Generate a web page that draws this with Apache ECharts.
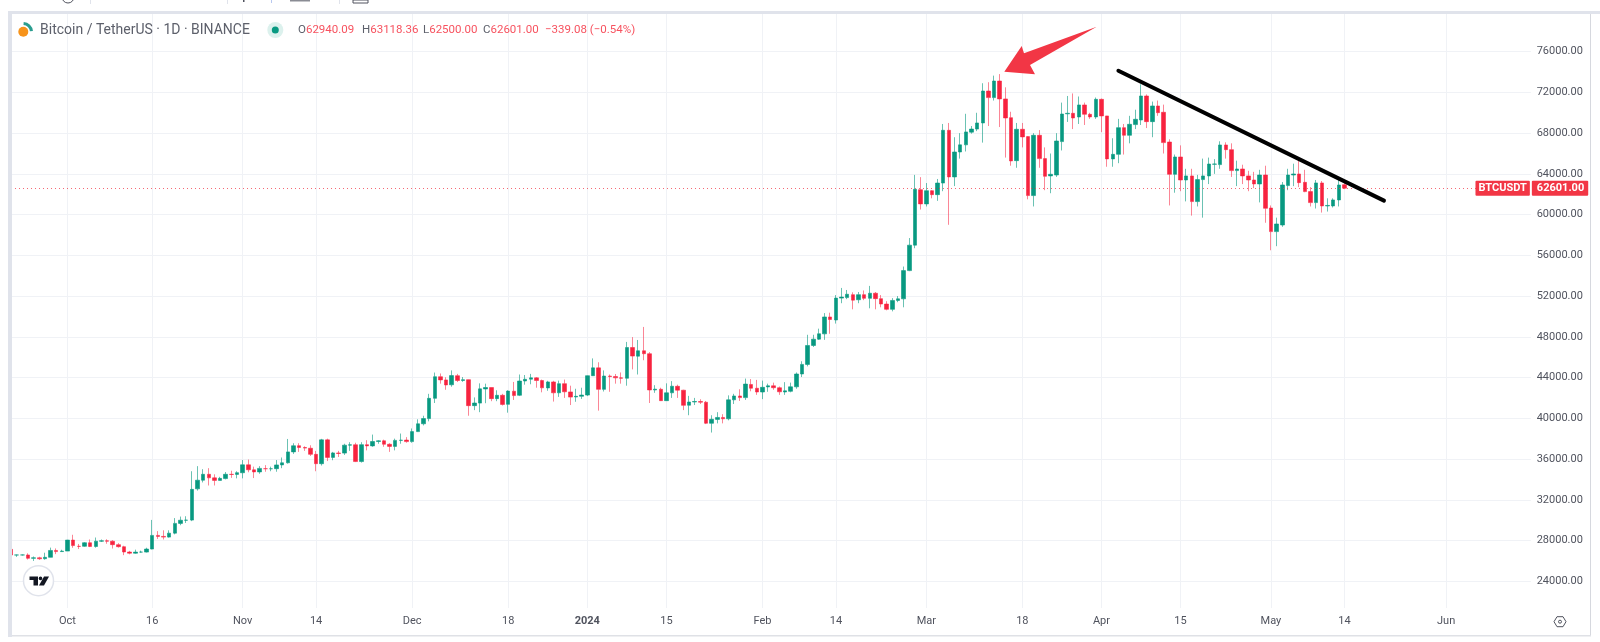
<!DOCTYPE html>
<html>
<head>
<meta charset="utf-8">
<style>
html,body{margin:0;padding:0;background:#fff;}
#chart{width:1600px;height:642px;}
</style>
<script src="https://cdn.jsdelivr.net/npm/echarts@6/dist/echarts.min.js"></script>
</head>
<body>
<div id="chart"></div>
<script>
// daily candles from 2023-09-21, ten per row
var opens = [
27130,26570,26580,26580,26250,26300,26210,26350,27020,26910,
26960,28040,27430,27430,27780,27410,27930,27970,27930,27590,
27390,26870,26750,26860,26860,27160,28500,28400,28330,28720,
29680,29990,30000,33070,33920,34500,34150,33900,34080,34500,
34490,34650,35430,34940,34730,35050,35040,35050,35420,35630,
36700,37310,37130,37060,36460,35540,37880,36160,36590,36580,
37360,37400,35750,37410,37290,37720,37790,37450,37240,37830,
37860,37710,38690,39460,39970,41960,44080,43770,43290,44180,
43710,43790,41240,41490,42880,43020,41930,42260,41370,42660,
42260,43660,43840,43970,43710,42980,43570,42500,43400,42590,
42090,42160,42280,44180,44950,42840,44150,44100,43970,43930,
46950,46100,46630,46340,42780,42850,41730,42500,43140,42760,
41280,41600,41650,41580,39510,39890,40080,39950,41810,42190,
42030,43320,42950,42580,43080,43190,43000,42580,42650,43090,
44350,45290,47150,47770,48290,49950,49650,51800,51850,52140,
51640,52140,51780,52280,51750,51220,50700,51570,51730,54500,
57000,62450,61050,62350,61960,63100,68280,63700,66150,66850,
68100,68400,69000,72140,71490,73120,71360,69520,65300,68380,
67660,61870,67790,65500,63800,63890,67170,69900,69950,69590,
70770,69850,69590,71320,69690,65470,65920,68540,67790,68840,
69290,71650,69130,70670,70050,67130,63960,65660,63400,63800,
61280,63440,63800,64950,64910,66840,66380,64320,64480,63800,
63400,63010,63890,60650,58330,58980,62850,63890,63990,63170,
62260,61180,63110,60850,60850,61440,62940
];
var closes = [
26570,26580,26580,26250,26300,26200,26350,27020,26910,26960,
28040,27500,27420,27780,27410,27930,27970,27930,27590,27390,
26870,26750,26860,26860,27160,28500,28400,28330,28720,29680,
29990,30000,33020,33920,34500,34150,33900,34100,34500,34480,
34660,35430,34940,34730,35080,35050,35050,35420,35630,36700,
37300,37130,37070,36460,35540,37880,36160,36600,36550,37360,
37400,35750,37410,37290,37720,37790,37450,37240,37830,37850,
37710,38690,39460,39970,41960,44080,43770,43270,44190,43710,
43790,41240,41500,42890,43020,41930,42260,41360,42670,42230,
43660,43830,43970,43710,42990,43570,42500,43400,42600,42080,
42160,42280,44180,44950,42840,44150,44100,43970,43930,46950,
46110,46630,46340,42780,42860,41730,42500,43150,42760,41270,
41600,41650,41580,39510,39900,40080,39950,41810,42190,42030,
43360,42950,42580,43040,43190,43000,42600,42700,43090,44350,
45290,47150,47770,48300,49950,49700,51800,51900,52180,51600,
52140,51780,52280,51750,51220,50700,51570,51730,54500,57000,
62486,61050,62350,61960,63100,68280,63700,66150,66850,68120,
68400,69000,72140,71490,73120,71360,69490,65270,68380,67630,
61870,67790,65500,63760,63960,67230,69880,69950,69490,70770,
69850,69590,71320,69690,65470,65920,68540,67790,68870,69360,
71650,69130,70670,70010,67070,63960,65660,63400,63800,61280,
63440,63800,64970,64970,66840,66380,64320,64480,63800,63400,
63010,63890,60620,58330,59080,62910,63890,63990,63140,62260,
61180,63110,60850,60900,61440,62910,62601
];
var lows = [
26450,26390,26520,26130,25990,26100,26110,26340,26660,26880,
26960,27280,27160,27380,27350,27290,27850,27680,27210,27300,
26560,26640,26700,26810,26820,27130,28150,28100,28280,28600,
29500,29720,29900,32900,33700,33400,33400,33900,34000,34150,
34100,34100,34700,34130,34550,34750,34800,34750,35100,35550,
36500,36700,36800,36300,34800,35360,35800,35880,36200,36400,
36800,35700,35650,36850,37200,37500,37200,36700,36850,37500,
37600,37600,38650,39300,39700,41500,43400,42800,43100,43560,
43580,40250,40800,40600,41480,41680,41680,41250,40550,41800,
42180,43300,43340,43000,42550,42700,41640,42100,42000,41300,
41620,41900,42180,44150,40750,42630,42600,43400,43400,43200,
44800,44300,45700,41500,42500,41700,41700,42000,42000,40800,
40300,41300,41400,39430,38600,39500,39500,39800,41400,41700,
41800,42650,42300,41880,42600,42800,42300,42300,42550,42900,
44050,45100,47000,47700,47700,48300,49300,51300,51700,50700,
51300,51600,50800,50700,50900,50600,50500,51400,50900,54450,
56700,60500,60800,61600,61350,62300,59000,62800,65500,66200,
67950,68200,67070,68700,71200,68600,65600,64800,64600,66600,
61500,60800,64600,62400,62100,63700,66300,69100,68400,68900,
68800,69400,69400,68100,64700,64700,65050,65900,67000,68400,
68800,68500,67600,69700,66000,60900,62150,62300,61300,59900,
60800,59700,63000,64000,64500,65500,63700,62800,63000,62300,
62600,61200,59200,56500,56900,58800,62400,62800,62700,62200,
60800,60600,60200,60300,60700,60800,62500
];
var highs = [
27160,26620,26620,26740,26430,26400,26800,27300,27220,27090,
28060,28560,27660,27840,28100,28290,28100,28120,28030,27740,
27480,26980,27100,27000,27290,30020,28920,29000,29000,30200,
30350,30380,34800,35300,35000,35100,34500,34250,34720,34850,
34800,35900,35950,35250,35300,35400,35250,35900,36150,37970,
37550,37550,37250,37350,36800,37980,37999,36700,36800,37500,
37650,37600,37650,37850,38400,37850,37900,37550,38000,38500,
38150,39000,39900,40250,42400,44490,44400,44030,44700,44360,
44050,43800,42050,43430,43400,43020,42750,42400,42750,43570,
44300,44250,44360,44040,43800,43680,43680,43700,43800,43200,
42900,43000,44200,45880,45500,44700,44300,44350,44500,47500,
47970,47690,48970,46500,43250,43000,43430,43650,43300,42800,
42200,42000,41870,41700,40300,40600,40400,42250,42400,42850,
43900,43850,43770,43700,43400,43500,43120,43550,43500,44500,
45600,48200,48200,48800,50330,50370,52100,52800,52600,52370,
52400,52550,53000,52400,52100,51500,51800,52000,54900,57700,
63900,63680,63100,62400,63500,68900,69000,67600,68000,69900,
68700,70000,72900,73000,73650,73800,72500,70100,69000,69000,
67700,68000,68300,66600,66000,68000,71000,71650,71900,71600,
71000,70000,71500,71400,69700,67500,69400,68900,69700,70300,
72800,71800,71100,71200,70800,67400,65900,66800,64500,64500,
63900,65500,65600,65450,67200,67100,67000,65300,64900,64300,
64200,64400,64800,60900,59700,63200,64500,65000,65500,64400,
62700,63400,63300,61600,61600,63450,63118
];

var tickDates = ['2023-10-01','2023-10-16','2023-11-01','2023-11-14','2023-12-01','2023-12-18','2024-01-01','2024-01-15','2024-02-01','2024-02-14','2024-03-01','2024-03-18','2024-04-01','2024-04-15','2024-05-01','2024-05-14','2024-06-01'];
var tickNames = ['Oct','16','Nov','14','Dec','18','2024','15','Feb','14','Mar','18','Apr','15','May','14','Jun'];
var priceTicks = [24000,28000,32000,36000,40000,44000,48000,52000,56000,60000,64000,68000,72000,76000];
var trendDates = ['2024-04-04','2024-05-21'];
var trendValues = [74130,61370];
var lastPrice = 62601;
var ohlcLetters = ['O','H','L','C',''];
var ohlcValues = ['62940.09','63118.36','62500.00','62601.00','−339.08 (−0.54%)'];
var ohlcLeft = [298,362,423,483,545];

var UP = '#089981', DOWN = '#f7233f', TEXT = '#50535e', GRID = '#f0f2f6';

// axis runs on past the last candle, up to the price scale
var categories = [];
var start = Date.UTC(2023, 8, 21);
for (var i = 0; i < 270; i++) {
	categories.push(new Date(start + i * 86400000).toISOString().slice(0, 10));
}
var candles = opens.map(function (o, i) {
	return [o, closes[i], lows[i], highs[i]];
});
function isTick(index) {
	return tickDates.indexOf(categories[index]) >= 0;
}
var ohlcTexts = ohlcValues.map(function (value, i) {
	return {
		type: 'text', z: 6, silent: true, x: ohlcLeft[i], y: 30,
		style: {
			text: (ohlcLetters[i] ? '{g|' + ohlcLetters[i] + '}' : '') + '{r|' + value + '}',
			font: '11.5px Roboto', verticalAlign: 'middle',
			rich: {
				g: { font: '11.5px Roboto', fill: '#5d606b' },
				r: { font: '11.5px Roboto', fill: '#f7525f' }
			}
		}
	};
});

var chart = echarts.init(document.getElementById('chart'));
chart.setOption({
	animation: false,
	backgroundColor: '#fff',
	textStyle: { fontFamily: 'Roboto' },
	grid: { left: 11, top: 14, width: 1519.85, height: 594, containLabel: false },
	xAxis: {
		type: 'category',
		data: categories,
		boundaryGap: false,
		axisLine: { show: false },
		axisTick: { show: false },
		axisLabel: {
			color: TEXT, fontSize: 11, margin: 8,
			interval: function (index) { return isTick(index); },
			formatter: function (value) {
				var name = tickNames[tickDates.indexOf(value)];
				return name === '2024' ? '{b|2024}' : name;
			},
			rich: { b: { fontWeight: 'bold', fontSize: 11, color: TEXT } }
		},
		splitLine: {
			show: true,
			interval: function (index) { return isTick(index); },
			lineStyle: { color: GRID, width: 1 }
		}
	},
	yAxis: {
		type: 'value',
		position: 'right',
		min: 21370,
		max: 79700,
		scale: true,
		axisLine: { show: false },
		axisTick: { show: false, customValues: priceTicks },
		axisLabel: {
			customValues: priceTicks,
			color: TEXT, fontSize: 11, margin: 52, align: 'right',
			formatter: function (value) { return value.toFixed(2); }
		},
		splitLine: { show: true, lineStyle: { color: GRID, width: 1 } }
	},
	series: [{
		type: 'candlestick',
		data: candles,
		barWidth: 4,
		itemStyle: {
			color: UP, color0: DOWN,
			borderColor: 'rgba(8,153,129,0.6)', borderColor0: 'rgba(247,35,63,0.55)',
			borderWidth: 1
		},
		markLine: {
			silent: true,
			symbol: 'none',
			lineStyle: { type: [1, 3], color: 'rgba(242,54,69,0.5)', width: 1 },
			data: [{
				yAxis: lastPrice,
				label: {
					position: 'end', distance: 1, formatter: '62601.00',
					backgroundColor: '#f23645', color: '#fff', fontSize: 11, fontWeight: 'bold',
					padding: [2, 4, 2, 5], borderRadius: 1
				}
			}, {
				yAxis: lastPrice,
				label: {
					position: 'insideEnd', distance: 1, formatter: 'BTCUSDT', verticalAlign: 'middle',
					backgroundColor: '#f23645', color: '#fff', fontSize: 11, fontWeight: 'bold',
					padding: [2, 3, 2, 3], borderRadius: 1
				}
			}]
		},
		z: 3
	}, {
		type: 'line',
		data: [[trendDates[0], trendValues[0]], [trendDates[1], trendValues[1]]],
		symbol: 'none',
		silent: true,
		lineStyle: { color: '#000', width: 4, cap: 'round' },
		z: 5
	}],
	graphic: [
		// panel frame
		{ type: 'rect', z: 10, silent: true, shape: { x: 8, y: 11, width: 4, height: 626 }, style: { fill: '#e0e3eb' } },
		{ type: 'rect', z: -1, silent: true, shape: { x: 8, y: 11, width: 1592, height: 3 }, style: { fill: '#e0e3eb' } },
		{ type: 'rect', z: -1, silent: true, shape: { x: 1590, y: 14, width: 1, height: 622 }, style: { fill: '#d6d8de' } },
		{ type: 'rect', z: -1, silent: true, shape: { x: 12, y: 635, width: 1579, height: 1.5 }, style: { fill: '#dfe1e6' } },
		// cut off toolbar
		{ type: 'circle', z: 1, silent: true, shape: { cx: 68, cy: -3, r: 6 }, style: { fill: 'none', stroke: '#50535e', lineWidth: 1 } },
		{ type: 'rect', z: 1, silent: true, shape: { x: 90, y: 0, width: 1, height: 4 }, style: { fill: '#e0e3eb' } },
		{ type: 'rect', z: 1, silent: true, shape: { x: 227, y: 0, width: 1, height: 4 }, style: { fill: '#e0e3eb' } },
		{ type: 'rect', z: 1, silent: true, shape: { x: 243, y: 0, width: 1.5, height: 2 }, style: { fill: '#50535e' } },
		{ type: 'rect', z: 1, silent: true, shape: { x: 271, y: 0, width: 1, height: 3 }, style: { fill: '#b8c8f0' } },
		{ type: 'rect', z: 1, silent: true, shape: { x: 290, y: 0, width: 20, height: 1.5 }, style: { fill: '#8a8c94' } },
		{ type: 'rect', z: 1, silent: true, shape: { x: 339, y: 0, width: 1, height: 4 }, style: { fill: '#e0e3eb' } },
		{ type: 'rect', z: 1, silent: true, shape: { x: 353, y: 0, width: 15, height: 3 }, style: { fill: 'none', stroke: '#50535e', lineWidth: 1 } },
		// legend line
		{
			type: 'text', z: 6, silent: true, x: 40, y: 30,
			style: { text: 'Bitcoin / TetherUS · 1D · BINANCE', fill: '#5d606b', font: '14px Roboto', verticalAlign: 'middle' }
		}
	].concat(ohlcTexts, [
		// symbol icon and market dot
		{ type: 'arc', z: 6, silent: true, shape: { cx: 23, cy: 32, r: 8.5, startAngle: -1.5, endAngle: -0.1 }, style: { fill: 'none', stroke: '#2a9d8f', lineWidth: 3 } },
		{ type: 'circle', z: 6, silent: true, shape: { cx: 23.3, cy: 31.7, r: 5 }, style: { fill: '#f7931a' } },
		{ type: 'circle', z: 6, silent: true, shape: { cx: 275.3, cy: 30, r: 8 }, style: { fill: 'rgba(8,153,129,0.14)' } },
		{ type: 'circle', z: 6, silent: true, shape: { cx: 275.3, cy: 30, r: 3.5 }, style: { fill: UP } },
		// arrow annotation
		{ type: 'polygon', z: 6, silent: true, shape: { points: [[1004.3, 71.7], [1021.7, 46], [1024, 53.3], [1096.7, 26.7], [1030, 65], [1035, 74.3]] }, style: { fill: '#f23645' } },
		// tradingview badge
		{ type: 'circle', z: 6, silent: true, shape: { cx: 38.5, cy: 580.7, r: 15 }, style: { fill: '#fff', stroke: '#e0e3eb', lineWidth: 1.5 } },
		{ type: 'polygon', z: 7, silent: true, shape: { points: [[29.5, 576.5], [38, 576.5], [38, 585.5], [33.5, 585.5], [33.5, 580], [29.5, 580]] }, style: { fill: '#131722' } },
		{ type: 'circle', z: 7, silent: true, shape: { cx: 40.5, cy: 578.4, r: 1.8 }, style: { fill: '#131722' } },
		{ type: 'polygon', z: 7, silent: true, shape: { points: [[44, 576.5], [49, 576.5], [44, 585.5], [39, 585.5]] }, style: { fill: '#131722' } },
		// settings icon
		{ type: 'polygon', z: 6, silent: true, shape: { points: [[1554, 621.7], [1557, 616.7], [1563, 616.7], [1566, 621.7], [1563, 626.7], [1557, 626.7]] }, style: { fill: 'none', stroke: '#50535e', lineWidth: 1 } },
		{ type: 'circle', z: 6, silent: true, shape: { cx: 1560, cy: 621.7, r: 1.5 }, style: { fill: 'none', stroke: '#50535e', lineWidth: 1 } }
	])
});
</script>
</body>
</html>
